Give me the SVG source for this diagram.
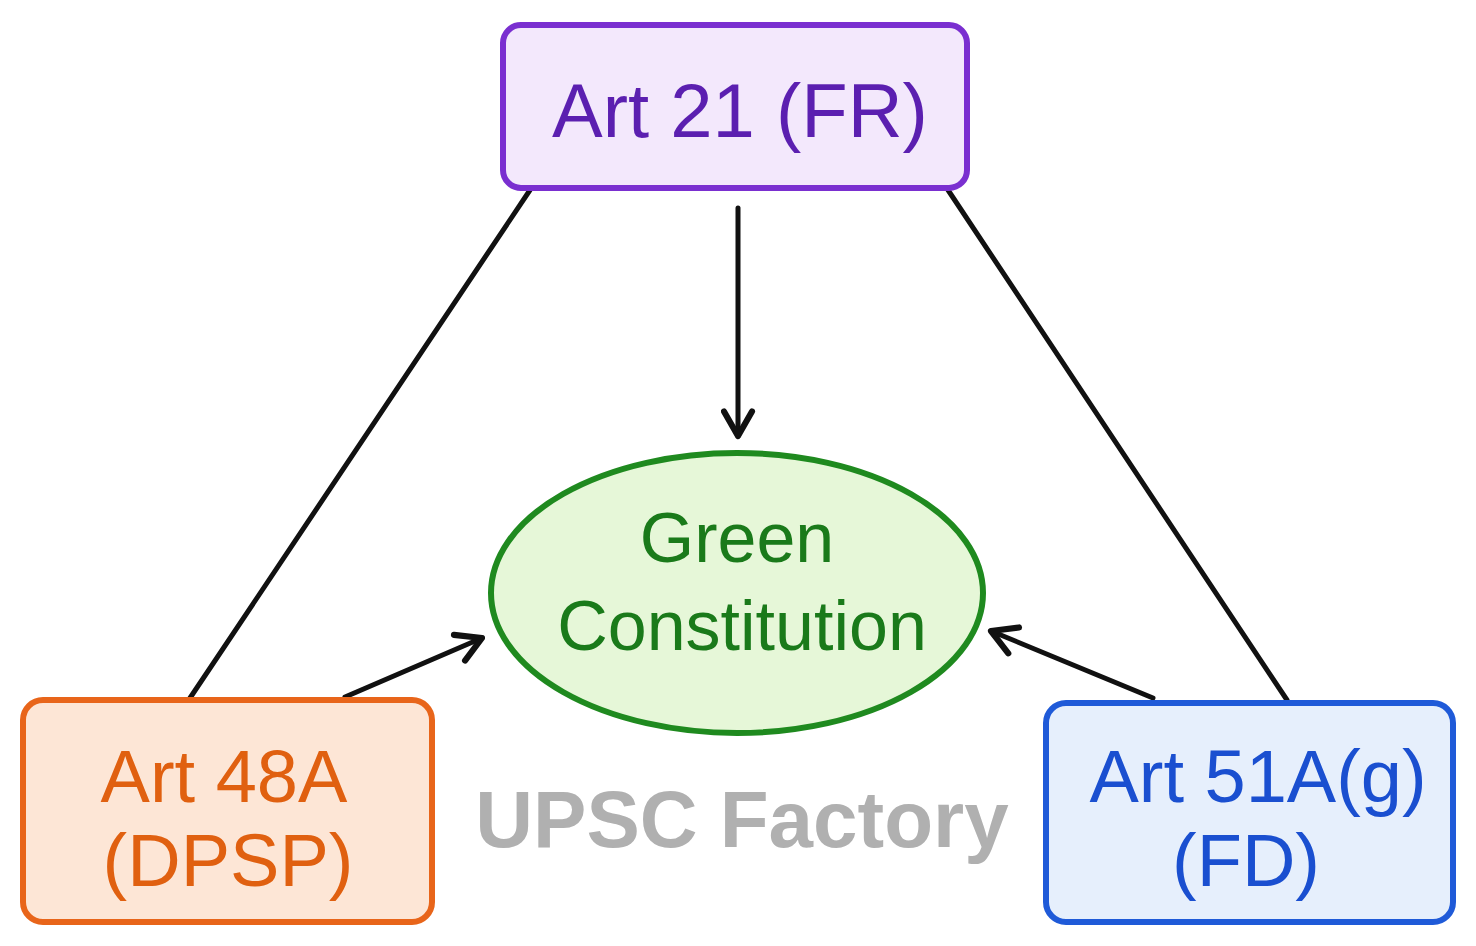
<svg xmlns="http://www.w3.org/2000/svg" width="1476" height="946" viewBox="0 0 1476 946">
<style>
text{font-family:"Liberation Sans","DejaVu Sans",sans-serif;text-anchor:middle}
.box{stroke-width:6}
.c{stroke:#111;stroke-width:5;fill:none;stroke-linecap:round}
</style>
<defs>
<marker id="ah" viewBox="0 0 20 20" refX="17" refY="10" markerWidth="7" markerHeight="7" orient="auto" markerUnits="strokeWidth">
<path d="M3,2 L17,10 L3,18" fill="none" stroke="#111" stroke-width="3.5" stroke-linecap="round" stroke-linejoin="round"/>
</marker>
</defs>
<rect width="1476" height="946" fill="#fff"/>
<g id="connectors">
<line class="c" x1="530" y1="190" x2="190" y2="698"/>
<line class="c" x1="948" y1="190" x2="1287" y2="700"/>
<line class="c" x1="738" y1="208" x2="738" y2="436" marker-end="url(#ah)"/>
<line class="c" x1="345" y1="697" x2="482" y2="638" marker-end="url(#ah)"/>
<line class="c" x1="1153" y1="698" x2="991" y2="631" marker-end="url(#ah)"/>
</g>
<g id="fr">
<rect class="box" x="503" y="25" width="464" height="163" rx="18" fill="#f3e8fc" stroke="#7a2fd0"/>
<text x="740" y="137" font-size="76" fill="#5b1fb0">Art 21 (FR)</text>
</g>
<g id="green">
<ellipse class="box" cx="737" cy="593" rx="246" ry="140" fill="#e6f7d8" stroke="#1f8a1f"/>
<text x="737" y="562" font-size="70" fill="#1a7a1a">Green</text>
<text x="742" y="650" font-size="70" fill="#1a7a1a">Constitution</text>
</g>
<g id="dpsp">
<rect class="box" x="23" y="700" width="409" height="222" rx="20" fill="#fde6d6" stroke="#e8651a"/>
<text x="224" y="802" font-size="74" fill="#e06010">Art 48A</text>
<text x="228" y="886" font-size="74" fill="#e06010">(DPSP)</text>
</g>
<g id="fd">
<rect class="box" x="1046" y="703" width="407" height="219" rx="20" fill="#e6effc" stroke="#1f5ad8"/>
<text x="1258" y="802" font-size="74" fill="#1a4fd0">Art 51A(g)</text>
<text x="1246" y="886" font-size="74" fill="#1a4fd0">(FD)</text>
</g>
<text x="742" y="847" font-size="80" font-weight="bold" fill="#b0b0b0">UPSC Factory</text>
</svg>
